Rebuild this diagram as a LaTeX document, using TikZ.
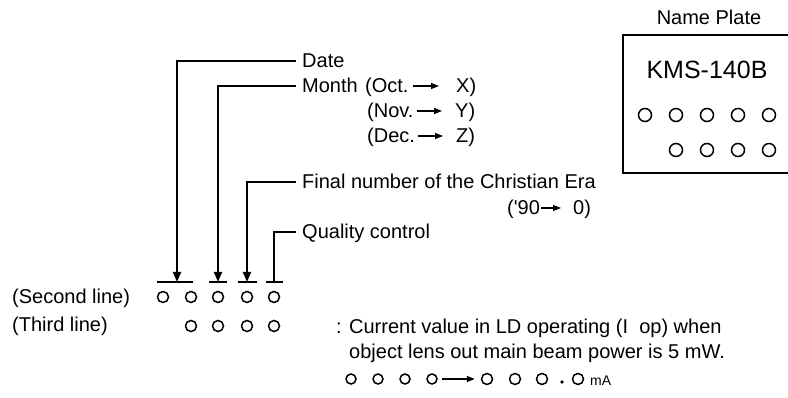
\documentclass[tikz,border=0pt]{standalone}
\usepackage{fontspec}
\setmainfont{Liberation Sans}
\usetikzlibrary{arrows.meta}
\begin{document}
\begin{tikzpicture}[x=1pt,y=-1pt,
  lbl/.style={inner sep=0pt, anchor=base west, text height=14pt, text depth=0pt, font=\fontsize{20}{24}\selectfont},
  conn/.style={line width=1.8pt, line join=miter},
  tip/.style={-{Triangle[width=8pt,length=10pt]}},
  txtarr/.style={line width=1.4pt, -{Triangle[width=6pt,length=8pt]}},
  dig/.style={circle, draw, line width=1.5pt, minimum size=11pt, inner sep=0pt},
  sdig/.style={dig, minimum size=10pt},
  pdig/.style={dig, minimum size=13pt},
]
\useasboundingbox (0,0) rectangle (788,398);

% ---------- Name plate ----------
\node[lbl, anchor=base] (np) at (709,25) {Name Plate};
\draw[conn] (788,35) -- (623,35) -- (623,173) -- (788,173);
\node[lbl, anchor=base, text height=18pt, font=\fontsize{25}{30}\selectfont] (kms) at (707,79) {KMS-140B};
\foreach \x [count=\i] in {645,676,707,738,769} \node[pdig] (pa\i) at (\x,115) {};
\foreach \x [count=\i] in {676,707,738,769} \node[pdig] (pb\i) at (\x,150) {};

% ---------- Labels ----------
\node[lbl] (date) at (302,68) {Date};
\node[lbl] (month) at (302,93) {Month};
\node[lbl] (oct) at (365,93) {(Oct.};
\node[lbl] (octx) at (456,93) {X)};
\node[lbl] (nov) at (367,118) {(Nov.};
\node[lbl] (novy) at (455,118) {Y)};
\node[lbl] (dec) at (367,143) {(Dec.};
\node[lbl] (decz) at (456,143) {Z)};
\draw[txtarr, shorten <=4pt, shorten >=17pt] (oct.east) -- (octx.west);
\draw[txtarr, shorten <=3pt, shorten >=13pt] (nov.east) -- (novy.west);
\draw[txtarr, shorten <=3pt, shorten >=13pt] (dec.east) -- (decz.west);

\node[lbl] (final) at (302,189) {Final number of the Christian Era};
\node[lbl] (yr) at (507,215) {(\textquotesingle 90};
\node[lbl] (yr0) at (573,215) {0)};
\draw[txtarr, shorten <=1pt, shorten >=12pt] (yr.east) -- (yr0.west);
\node[lbl] (qc) at (302,239) {Quality control};

% ---------- Second / third line ----------
\node[lbl] (second) at (12,304) {(Second line)};
\node[lbl] (third) at (12,332) {(Third line)};
\foreach \x [count=\i] in {163,191,218,247,274} \node[dig] (s\i) at (\x,297) {};
\foreach \x [count=\i] in {191,218,247,274} \node[dig] (t\i) at (\x,326) {};

% bars
\draw[conn] (157,282) -- (193,282);
\draw[conn] (209,282) -- (227,282);
\draw[conn] (238,282) -- (257,282);
\draw[conn] (266,282) -- (283,282);
\coordinate (b1) at (177,282);
\coordinate (b2) at (218,282);
\coordinate (b3) at (247,282);
\coordinate (b4) at (274,282);

% connectors
\draw[conn, tip, shorten <=6pt] (date.west) -| (b1);
\draw[conn, tip, shorten <=6pt] (month.west) -| (b2);
\draw[conn, tip, shorten <=6pt] (final.west) -| (b3);
\draw[conn, shorten <=6pt] (qc.west) -| (b4);

% ---------- Current value ----------
\node[lbl] (cv1) at (336,334) {: Current value in LD operating (I\ \ op) when};
\node[lbl] (cv2) at (349,359) {object lens out main beam power is 5 mW.};
\foreach \x [count=\i] in {351,378,405,432} \node[sdig] (u\i) at (\x,379) {};
\foreach \x [count=\i] in {487,515,542} \node[dig] (v\i) at (\x,379) {};
\fill (562,382) circle[radius=1.8pt];
\node[dig] (v4) at (578,379) {};
\node[inner sep=0pt, anchor=base west, font=\fontsize{14}{16}\selectfont] (ma) at (590,385) {mA};
\draw[txtarr, shorten <=4pt, shorten >=6pt] (u4) -- (v1);
\end{tikzpicture}
\end{document}
